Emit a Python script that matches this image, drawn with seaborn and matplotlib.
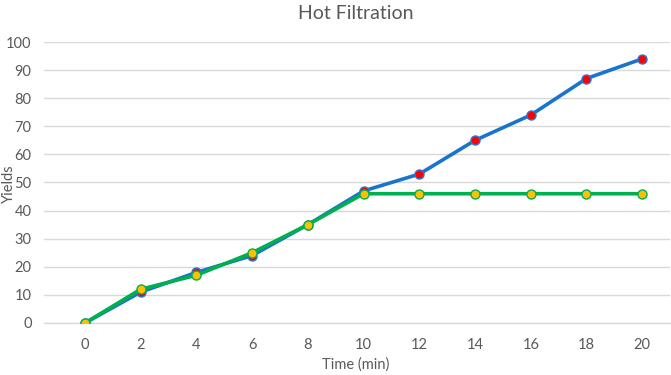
import seaborn as sns
import matplotlib.pyplot as plt
import pandas as pd

# Data
time_min = [0, 2, 4, 6, 8, 10, 12, 14, 16, 18, 20]
yield_blue = [0, 11, 18, 24, 35, 47, 53, 65, 74, 87, 94]
yield_green = [0, 12, 17, 25, 35, 46, 46, 46, 46, 46, 46]

df = pd.DataFrame({'time': time_min, 'blue': yield_blue, 'green': yield_green})

sns.set_style('white')
plt.rcParams['font.family'] = ['Lato', 'DejaVu Sans']

fig = plt.figure(figsize=(6.71, 3.75), dpi=100)
ax = fig.add_axes([0.0656, 0.1387, 0.933, 0.7493])

# Blue series: red dots with blue edge
sns.lineplot(data=df, x='time', y='blue', ax=ax, color='#1874CD', linewidth=2.6,
             marker='o', markersize=6.5, markerfacecolor='#FF0000',
             markeredgecolor='#2E75D6', markeredgewidth=1.0, zorder=3)
# Green series: yellow dots with green edge
sns.lineplot(data=df, x='time', y='green', ax=ax, color='#00B050', linewidth=2.6,
             marker='o', markersize=6.5, markerfacecolor='#FFC000',
             markeredgecolor='#00B050', markeredgewidth=1.0, zorder=4)

ax.set_xlim(-1.47, 21.0)
ax.set_ylim(0, 100)
ax.set_xticks(time_min)
ax.set_yticks(range(0, 101, 10))
ax.yaxis.grid(True, color='#D9D9D9', linewidth=1.0)
ax.set_axisbelow(True)
for side in ['top', 'right', 'left']:
    ax.spines[side].set_visible(False)
ax.spines['bottom'].set_color('#D9D9D9')
ax.spines['bottom'].set_linewidth(1.0)
ax.tick_params(axis='both', length=0, labelsize=10.5, labelcolor='#595959')
ax.tick_params(axis='x', pad=11)
ax.tick_params(axis='y', pad=9)

ax.set_xlabel('')
ax.set_ylabel('')
fig.text(0.53, 0.028, 'Time (min)', fontsize=10.5, color='#595959', ha='center', va='center')
fig.text(0.013, 0.51, 'Yields', fontsize=10.5, color='#595959', ha='center', va='center',
         rotation=90)
fig.text(0.53, 0.965, 'Hot Filtration', fontsize=14, color='#595959', ha='center', va='center')

plt.savefig('out.png', dpi=100)
